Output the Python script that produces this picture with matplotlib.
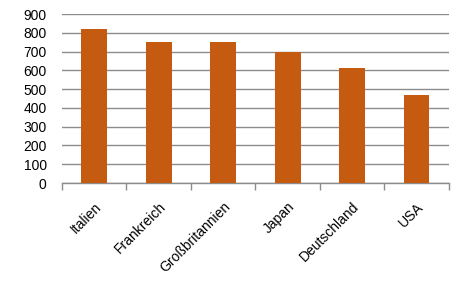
import numpy as np
import matplotlib
matplotlib.use("Agg")
import matplotlib.pyplot as plt

# data
countries = ["Italien", "Frankreich", "Großbritannien", "Japan", "Deutschland", "USA"]
values = [820, 750, 750, 700, 610, 470]
y_ticks = list(range(0, 1000, 100))

plt.rcParams["font.family"] = ["Liberation Sans", "DejaVu Sans"]

fig = plt.figure(figsize=(4.67, 2.86), dpi=100)
ax = fig.add_axes([0.1328, 0.36, 0.8282, 0.591])

x = np.arange(len(countries))
ax.bar(x, values, width=0.4, color="#C55A11", zorder=3)

# grid and axes
ax.set_ylim(0, 900)
ax.set_yticks(y_ticks)
ax.set_xlim(-0.5, len(countries) - 0.5)
ax.yaxis.grid(True, color="#8c8c8c", linewidth=1, zorder=0)
for side in ["top", "right", "left"]:
    ax.spines[side].set_visible(False)
ax.spines["bottom"].set_color("#8c8c8c")
ax.spines["bottom"].set_linewidth(1)

ax.tick_params(axis="y", length=0, pad=11, labelsize=10, labelcolor="#000000")
ax.set_xticks(x)
ax.set_xticklabels(countries, rotation=45, ha="right", va="top",
                   rotation_mode="anchor", fontsize=10)
ax.tick_params(axis="x", which="major", length=0, pad=12)
ax.set_xticks(np.arange(-0.5, len(countries), 1), minor=True)
ax.tick_params(axis="x", which="minor", length=5, width=1, color="#8c8c8c",
               direction="out")

fig.savefig("out.png", dpi=100)
